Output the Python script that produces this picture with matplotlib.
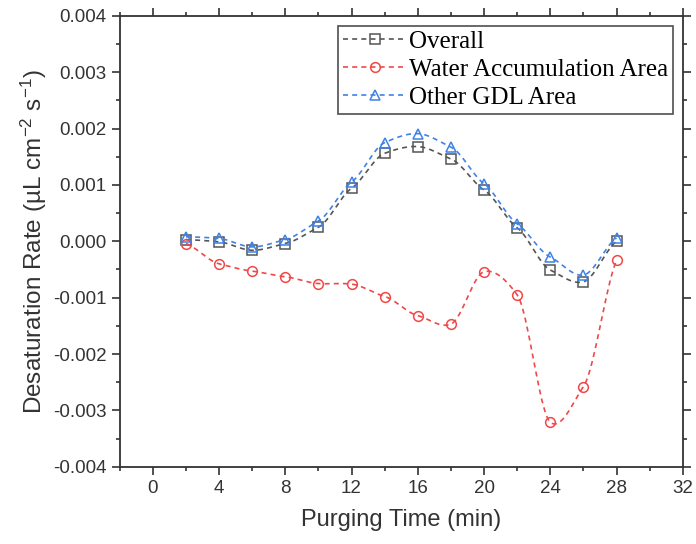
import numpy as np
import matplotlib
matplotlib.use("Agg")
from matplotlib import pyplot as plt
from matplotlib.ticker import MultipleLocator

plt.rcParams["mathtext.fontset"] = "custom"
plt.rcParams["mathtext.rm"] = "Liberation Sans"
plt.rcParams["mathtext.it"] = "Liberation Sans:italic"
plt.rcParams["mathtext.default"] = "regular"

# Purging time (min)
time_min = [2, 4, 6, 8, 10, 12, 14, 16, 18, 20, 22, 24, 26, 28]

# Desaturation rate (uL cm^-2 s^-1)
overall = [0.00003, -0.00001, -0.00016, -0.00004, 0.00025, 0.00094, 0.00156,
           0.00168, 0.00146, 0.00091, 0.00024, -0.00051, -0.00072, 0.00000]
water_area = [-0.00004, -0.00040, -0.00053, -0.00063, -0.00075, -0.00076, -0.00098,
              -0.00132, -0.00147, -0.00054, -0.00095, -0.00321, -0.00258, -0.00034]
other_gdl = [0.00008, 0.00005, -0.00010, 0.00003, 0.00036, 0.00105, 0.00175,
             0.00191, 0.00167, 0.00102, 0.00031, -0.00028, -0.00060, 0.00006]

series_names = ["Overall", "Water Accumulation Area", "Other GDL Area"]


def smooth_curve(x, y, n=20, k=0.6):
    # cardinal spline through the points, only for drawing the connecting line
    x = np.asarray(x, float)
    y = np.asarray(y, float)
    t = np.linspace(0, 1, n, endpoint=False)
    h00 = 2 * t**3 - 3 * t**2 + 1
    h10 = t**3 - 2 * t**2 + t
    h01 = -2 * t**3 + 3 * t**2
    h11 = t**3 - t**2
    m = np.gradient(y, x) * k
    xs, ys = [], []
    for i in range(len(x) - 1):
        dx = x[i + 1] - x[i]
        xs.append(x[i] + t * dx)
        ys.append(h00 * y[i] + h10 * dx * m[i] + h01 * y[i + 1] + h11 * dx * m[i + 1])
    xs.append([x[-1]])
    ys.append([y[-1]])
    return np.concatenate(xs), np.concatenate(ys)


fig = plt.figure(figsize=(6.96, 5.44), dpi=100)
ax = fig.add_axes([0.172, 0.142, 0.809, 0.829])

styles = [
    (overall, "#555555", "s"),
    (water_area, "#f04848", "o"),
    (other_gdl, "#3f82e6", "^"),
]

dash = (0, (3, 2.5))
for (vals, color, marker), name in zip(styles, series_names):
    sx, sy = smooth_curve(time_min, vals)
    ax.plot(sx, sy, color=color, lw=1.2, linestyle=dash)
    ax.plot(time_min, vals, linestyle="none", marker=marker, markersize=7,
            markerfacecolor="none", markeredgecolor=color, markeredgewidth=1.1)
    # proxy for legend
    ax.plot([], [], color=color, lw=1.2, linestyle=dash, marker=marker,
            markersize=7, markerfacecolor="none", markeredgecolor=color,
            markeredgewidth=1.1, label=name)

ax.set_xlim(-2, 32)
ax.set_ylim(-0.004, 0.004)
ax.xaxis.set_major_locator(MultipleLocator(4))
ax.xaxis.set_minor_locator(MultipleLocator(2))
ax.yaxis.set_major_locator(MultipleLocator(0.001))
ax.yaxis.set_minor_locator(MultipleLocator(0.0005))
ax.yaxis.set_major_formatter(plt.FuncFormatter(lambda v, p: f"{v:.3f}"))

ax.tick_params(which="both", direction="out", top=True, right=True,
               labeltop=False, labelright=False, width=1.2, color="#333333")
ax.tick_params(which="major", length=6)
ax.tick_params(which="minor", length=3)
for lab in ax.get_xticklabels() + ax.get_yticklabels():
    lab.set_family("Liberation Sans")
    lab.set_fontsize(13.5)
    lab.set_color("#333333")
for sp in ax.spines.values():
    sp.set_linewidth(1.3)
    sp.set_color("#333333")

ax.set_xlabel("Purging Time (min)", family="Liberation Sans", fontsize=17,
              color="#333333", labelpad=9)
ax.set_ylabel(r"Desaturation Rate (µL cm$^{-2}$ s$^{-1}$)",
              family="Liberation Sans", fontsize=17.5, color="#333333", labelpad=3)

leg = ax.legend(loc="upper right", bbox_to_anchor=(0.983, 0.978),
                prop={"family": "Liberation Serif", "size": 18},
                frameon=True, fancybox=False, handlelength=2.55,
                handletextpad=0.1, borderpad=0.2, labelspacing=0.22,
                borderaxespad=0.0)
leg.get_frame().set_edgecolor("#222222")
leg.get_frame().set_linewidth(1.2)

fig.savefig("out.png", dpi=100)
